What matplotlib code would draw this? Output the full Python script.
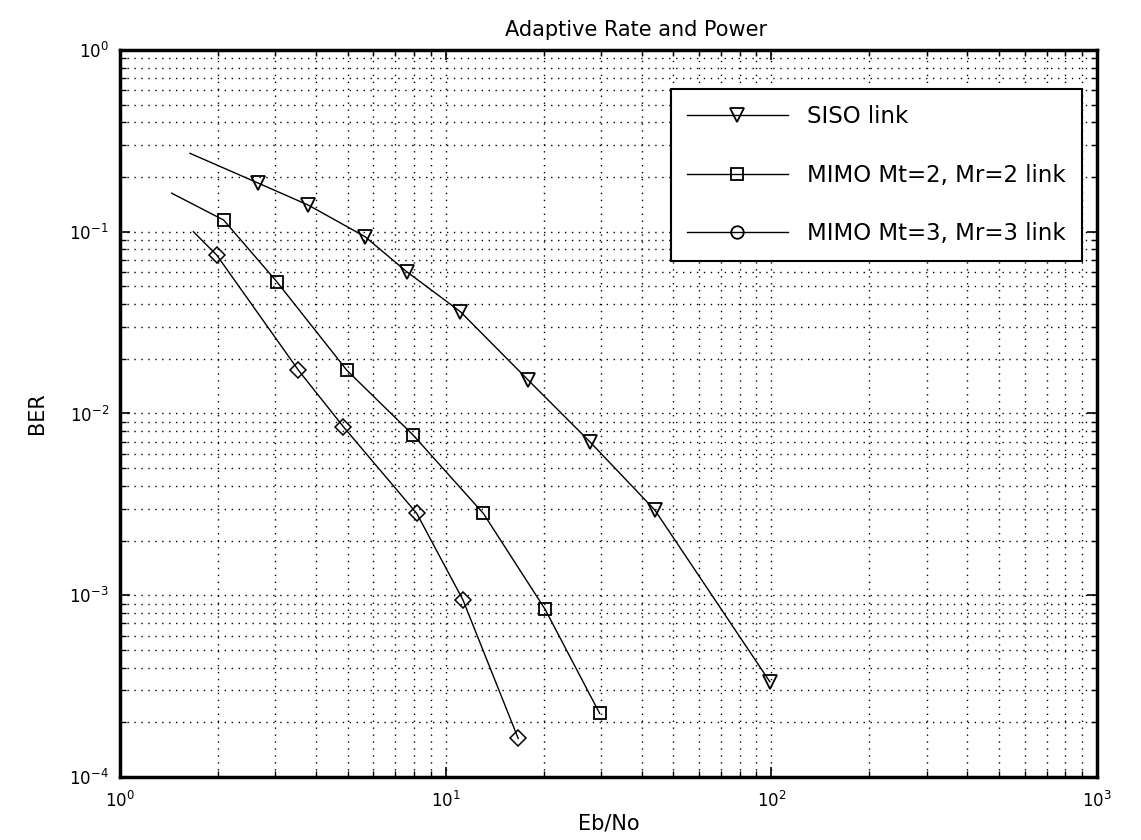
import matplotlib
matplotlib.use("Agg")
import matplotlib.pyplot as plt
from matplotlib.lines import Line2D

# ---- data ----
siso_x = [1.64, 2.66, 3.79, 5.65, 7.59, 11.1, 17.9, 27.7, 43.9, 99.0]
siso_y = [0.27, 0.185, 0.140, 0.094, 0.0603, 0.0363, 0.0153, 0.0070, 0.00294, 3.34e-4]

mimo2_x = [1.44, 2.08, 3.03, 4.97, 7.95, 13.05, 20.2, 29.7]
mimo2_y = [0.163, 0.116, 0.0531, 0.0173, 0.0076, 0.00282, 8.37e-4, 2.24e-4]

mimo3_x = [1.68, 1.98, 3.53, 4.85, 8.15, 11.3, 16.7]
mimo3_y = [0.100, 0.0745, 0.0173, 0.00846, 0.00282, 9.42e-4, 1.63e-4]

labels = ["SISO link", "MIMO Mt=2, Mr=2 link", "MIMO Mt=3, Mr=3 link"]
title = "Adaptive Rate and Power"
xlabel = "Eb/No"
ylabel = "BER"

plt.rcParams['font.family'] = ['DejaVu Sans']

fig = plt.figure(figsize=(11.41, 8.40), dpi=100)
ax = fig.add_axes([0.1052, 0.075, 0.8562, 0.8655])

lw = 1.0
ax.plot(siso_x, siso_y, color='black', lw=lw, marker='v', ms=10,
        mfc='none', mec='black', mew=1.3, markevery=slice(1, None))
ax.plot(mimo2_x, mimo2_y, color='black', lw=lw, marker='s', ms=9,
        mfc='none', mec='black', mew=1.3, markevery=slice(1, None))
ax.plot(mimo3_x, mimo3_y, color='black', lw=lw, marker='D', ms=8,
        mfc='none', mec='black', mew=1.1, markevery=slice(1, None))

ax.set_xscale('log')
ax.set_yscale('log')
ax.set_xlim(1, 1000)
ax.set_ylim(1e-4, 1)

ax.grid(True, which='both', linestyle=(0, (1, 4)), color='black', linewidth=1.0)
ax.tick_params(which='both', direction='in', top=True, right=True, labelsize=12)
ax.tick_params(which='major', length=7, width=1.2)
ax.tick_params(which='minor', length=4, width=1.0)
ax.tick_params(axis='x', which='both', pad=10)
ax.tick_params(axis='y', which='both', pad=8)
for s in ax.spines.values():
    s.set_linewidth(2.5)
    s.set_color('black')

ax.set_title(title, fontsize=15, x=0.528, pad=10)
ax.set_xlabel(xlabel, fontsize=15, labelpad=2)
ax.set_ylabel(ylabel, fontsize=15, labelpad=16)

handles = [
    Line2D([], [], color='black', lw=lw, marker='v', ms=10, mfc='none', mew=1.3),
    Line2D([], [], color='black', lw=lw, marker='s', ms=9, mfc='none', mew=1.3),
    Line2D([], [], color='black', lw=lw, marker='o', ms=9, mfc='none', mew=1.3),
]
leg = ax.legend(handles, labels, loc='upper right', bbox_to_anchor=(0.9846, 0.946),
                borderaxespad=0, fontsize=16.5, handlelength=4.4, labelspacing=1.55,
                handletextpad=0.85, borderpad=0.7, fancybox=False, framealpha=1,
                edgecolor='black')
leg.get_frame().set_linewidth(1.5)

fig.savefig("out.png", dpi=100)
